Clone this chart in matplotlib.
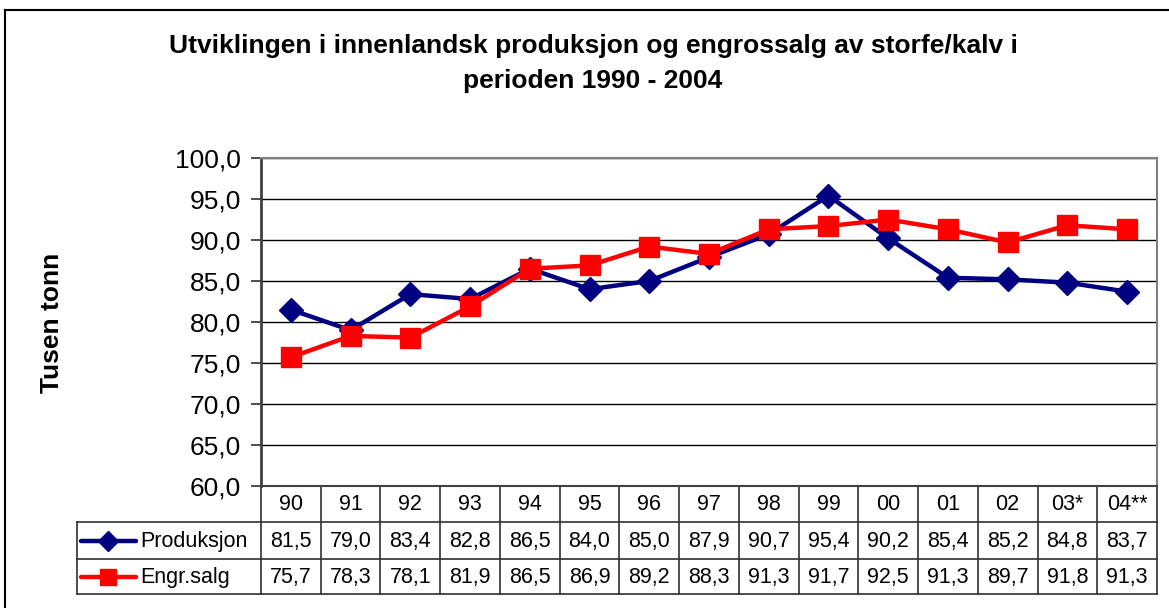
import matplotlib
matplotlib.use("Agg")
import matplotlib.pyplot as plt
from matplotlib.transforms import blended_transform_factory
from matplotlib.lines import Line2D

plt.rcParams['font.family'] = ['Liberation Sans', 'DejaVu Sans']

categories = ["90", "91", "92", "93", "94", "95", "96", "97", "98", "99", "00", "01", "02", "03*", "04**"]
produksjon = [81.5, 79.0, 83.4, 82.8, 86.5, 84.0, 85.0, 87.9, 90.7, 95.4, 90.2, 85.4, 85.2, 84.8, 83.7]
engrsalg = [75.7, 78.3, 78.1, 81.9, 86.5, 86.9, 89.2, 88.3, 91.3, 91.7, 92.5, 91.3, 89.7, 91.8, 91.3]
series_names = ["Produksjon", "Engr.salg"]
title_lines = ["Utviklingen i innenlandsk produksjon og engrossalg av storfe/kalv i",
               "perioden 1990 - 2004"]
ylabel = "Tusen tonn"

W, H = 1169, 608
fig = plt.figure(figsize=(W / 100, H / 100), dpi=100)

# overlay axes in pixel coordinates
ov = fig.add_axes([0, 0, 1, 1], zorder=0)
ov.set_xlim(0, W)
ov.set_ylim(H, 0)
ov.axis('off')

L, R, T, B = 261, 1157, 158, 486
ax = fig.add_axes([L / W, (H - B) / H, (R - L) / W, (B - T) / H], zorder=2)
ax.patch.set_alpha(0)
n = len(categories)
x = list(range(n))
ax.set_xlim(-0.5, n - 0.5)
ax.set_ylim(60, 100)
ax.set_yticks([60 + 5 * i for i in range(9)])
ax.set_yticklabels([f"{60 + 5 * i:.1f}".replace('.', ',') for i in range(9)], fontsize=19)
ax.tick_params(axis='y', length=7.5, width=1.2, pad=7, direction='out', color='#303030')
ax.set_xticks([])
ax.grid(axis='y', color='black', linewidth=1.0)
ax.set_axisbelow(True)
for s in ['top', 'right']:
    ax.spines[s].set_color('#808080')
    ax.spines[s].set_linewidth(1.5)
ax.spines['left'].set_color('#404040')
ax.spines['left'].set_linewidth(2)
ax.spines['bottom'].set_color('#404040')
ax.spines['bottom'].set_linewidth(1.5)

navy = '#000080'
red = '#FF0000'
ax.plot(x, produksjon, color=navy, lw=3.2, marker='D', markersize=12, zorder=3, clip_on=False)
ax.plot(x, engrsalg, color=red, lw=3.2, marker='s', markersize=14.5, zorder=4, clip_on=False)

# title & ylabel
fig.text(593 / W, 1 - 46 / H, title_lines[0], ha='center', va='center', fontsize=19, fontweight='bold')
fig.text(593 / W, 1 - 81 / H, title_lines[1], ha='center', va='center', fontsize=19, fontweight='bold')
fig.text(52 / W, 1 - 323 / H, ylabel, rotation=90, ha='center', va='center', fontsize=19, fontweight='bold')

# outer border
ov.plot([5, 5], [10, H], color='black', lw=1.5)
ov.plot([5, W], [10, 10], color='black', lw=1.5)

# data table
tr = blended_transform_factory(ax.transData, ov.transData)
y_hdr, y1, y2, y3 = 486, 522, 559, 594
lc = '#303030'
for i in range(n + 1):
    ov.add_line(Line2D([i - 0.5, i - 0.5], [y_hdr, y3], transform=tr, color=lc, lw=1.2))
for yy in (y1, y2, y3):
    ov.plot([77, R], [yy, yy], color=lc, lw=1.2)
ov.plot([77, 77], [y1, y3], color=lc, lw=1.2)
fs = 15.5
for i, c in enumerate(categories):
    ov.text(i, (y_hdr + y1) / 2 + 1, c, transform=tr, ha='center', va='center', fontsize=fs)
    ov.text(i, (y1 + y2) / 2 + 1, f"{produksjon[i]:.1f}".replace('.', ','), transform=tr,
            ha='center', va='center', fontsize=fs)
    ov.text(i, (y2 + y3) / 2 + 1, f"{engrsalg[i]:.1f}".replace('.', ','), transform=tr,
            ha='center', va='center', fontsize=fs)

# legend keys in table
for (yc, col, mk, ms), name in zip([((y1 + y2) / 2, navy, 'D', 10), ((y2 + y3) / 2, red, 's', 12)], series_names):
    ov.plot([81, 136], [yc, yc], color=col, lw=3.2, solid_capstyle='round')
    ov.plot([108], [yc], color=col, marker=mk, markersize=ms, lw=0)
    ov.text(140, yc + 1, name, ha='left', va='center', fontsize=fs)

fig.savefig("out.png", dpi=100)
